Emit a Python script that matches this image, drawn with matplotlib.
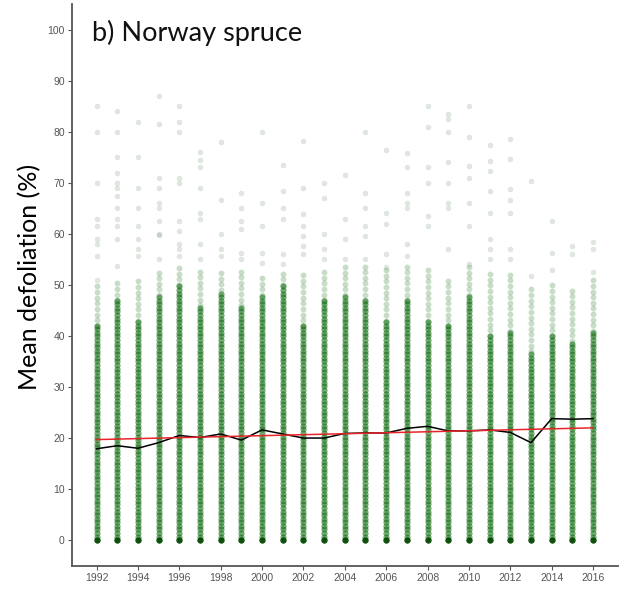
import numpy as np
import matplotlib
matplotlib.use('Agg')
from matplotlib import pyplot as plt

# yearly survey, Norway spruce plots
years = list(range(1992, 2017))

# yearly mean defoliation (black line)
mean_defol = [17.9, 18.5, 18.0, 19.1, 20.5, 20.1, 20.8, 19.6, 21.6, 20.8,
              20.0, 20.0, 20.9, 21.0, 21.0, 21.9, 22.3, 21.4, 21.4, 21.6,
              21.1, 19.1, 23.8, 23.7, 23.8]

# linear trend, value at first and last year (red line)
trend_ends = [19.7, 22.0]

# where the solid column of plots stops each year
dense_top = [42, 47, 43, 48, 50, 46, 49, 46, 48, 50, 42, 47, 48, 47, 43,
             47, 43, 42, 48, 40, 41, 37, 40, 39, 41]

# where the thinner band above the solid column stops
fringe_top = [50, 51, 51, 53, 54, 53, 53, 53, 52, 53, 52, 53, 54, 54, 53,
              54, 53, 51, 54, 53, 53, 50, 50, 49, 51]

# scattered high-defoliation plots above the band
outliers = {
    1992: [85, 80, 70, 63, 61.5, 59, 58, 55.7, 51],
    1993: [84, 80, 75, 72, 70, 69, 67.4, 65, 63, 61.5, 59, 53.7],
    1994: [82, 75, 69, 65, 61.5, 59, 57, 55.7],
    1995: [87, 81.5, 71, 69, 66, 65, 62.5, 60, 59.7, 55],
    1996: [85, 82, 80, 71, 70, 62.5, 60.5, 58, 57, 55.7],
    1997: [76, 74.5, 73, 69, 64, 63, 58, 55],
    1998: [78, 66.7, 60, 57, 55.7],
    1999: [68, 65, 62.5, 61, 56.2, 55],
    2000: [80, 66, 61.6, 56.2, 54.3],
    2001: [73.4, 68.4, 65, 63, 56, 54],
    2002: [78.2, 69, 63.8, 61.5, 59.6, 57.6, 56],
    2003: [70, 67, 59.9, 57, 55],
    2004: [71.6, 63, 58.9, 55],
    2005: [80, 68, 65, 61.5, 59.6, 55],
    2006: [76.5, 64, 62, 56, 53.6],
    2007: [75.9, 73, 68, 66, 65, 58, 55.7],
    2008: [85, 81, 73, 70, 63.4, 61.5],
    2009: [83.5, 82.5, 79.9, 74, 70, 66, 65, 57],
    2010: [85, 79, 73.2, 71, 66, 61.5, 54],
    2011: [77.5, 74.2, 72.3, 68.4, 64, 59, 57, 55],
    2012: [78.5, 74.6, 68.7, 66.7, 64, 57, 55],
    2013: [70.3, 51.7],
    2014: [62.6, 56.2, 53],
    2015: [57.6, 56],
    2016: [58.4, 57, 52.5],
}

GREEN = '#086808'
fig = plt.figure(figsize=(6.21, 5.89), dpi=100)
ax = fig.add_axes([0.1155, 0.0396, 0.8795, 0.9534])

for yr, top, fr in zip(years, dense_top, fringe_top):
    solid = np.arange(0, top, 0.7)
    ax.scatter(np.full(solid.size, yr), solid, s=20, color=GREEN,
               alpha=0.55, linewidths=0)
    band = np.arange(top, fr, 1.1)
    ax.scatter(np.full(band.size, yr), band, s=18, color=GREEN,
               alpha=0.22, linewidths=0)
    hi = outliers[yr]
    ax.scatter([yr] * len(hi), hi, s=16, color='#3a6a3a', alpha=0.16,
               linewidths=0)

# plots with no defoliation pile up on zero
ax.scatter(years, [0] * len(years), s=20, color='#004400', alpha=0.85,
           linewidths=0)

ax.plot(years, mean_defol, color='black', lw=1.1, zorder=3)
ax.plot([years[0], years[-1]], trend_ends, color='#e8242a', lw=1.1,
        zorder=4)

ax.set_xlim(1990.8, 2017.2)
ax.set_ylim(-5, 105)
ax.set_xticks(range(1992, 2017, 2))
ax.set_yticks(range(0, 101, 10))
for s in ['top', 'right']:
    ax.spines[s].set_visible(False)
for s in ['left', 'bottom']:
    ax.spines[s].set_color('#555555')
    ax.spines[s].set_linewidth(1.3)
ax.tick_params(colors='#555555', labelcolor='#555555', length=3,
               width=0.8, labelsize=7.5, pad=2)
for lab in ax.get_xticklabels() + ax.get_yticklabels():
    lab.set_family('Liberation Sans')

ax.text(0.037, 0.935, 'b) Norway spruce', transform=ax.transAxes,
        fontsize=19.5, family='Lato', color='#111111', va='baseline')
fig.text(0.047, 0.529, 'Mean defoliation (%)', rotation=90, fontsize=18,
         family='Lato', ha='center', va='center')

plt.savefig('out.png', dpi=100)
